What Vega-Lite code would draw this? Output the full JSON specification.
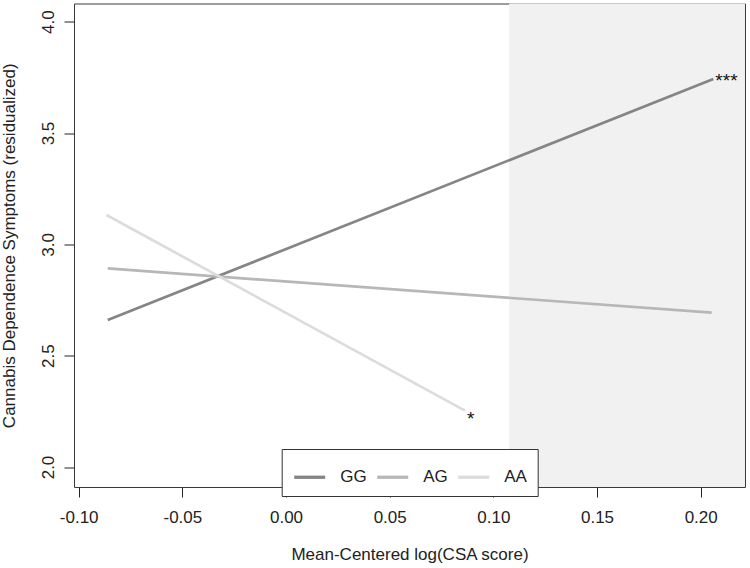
{
  "$schema": "https://vega.github.io/schema/vega-lite/v6.json",
  "width": 671,
  "height": 483.5,
  "autosize": "none",
  "padding": {"left": 74, "top": 3.5, "right": 5, "bottom": 81},
  "background": "white",
  "config": {
    "font": "Liberation Sans",
    "view": {"stroke": "#3a3a3a", "strokeWidth": 1},
    "axis": {
      "grid": false,
      "domain": false,
      "tickColor": "#222",
      "tickSize": 10,
      "tickWidth": 1,
      "labelFont": "Liberation Sans",
      "labelFontSize": 17,
      "labelColor": "#222",
      "titleFont": "Liberation Sans",
      "titleFontSize": 17,
      "titleFontWeight": "normal",
      "titleColor": "#222"
    }
  },
  "datasets": {
    "shade": [{"start": 0.1076, "end": 0.22137}],
    "lines": [
      {"genotype": "GG", "csa": -0.086, "symptoms": 2.66},
      {"genotype": "GG", "csa": 0.2061, "symptoms": 3.743},
      {"genotype": "AG", "csa": -0.086, "symptoms": 2.892},
      {"genotype": "AG", "csa": 0.2053, "symptoms": 2.693},
      {"genotype": "AA", "csa": -0.0866, "symptoms": 3.132},
      {"genotype": "AA", "csa": 0.0863, "symptoms": 2.253}
    ],
    "stars": [
      {"genotype": "GG", "csa": 0.2061, "symptoms": 3.743, "label": "***"},
      {"genotype": "AA", "csa": 0.0863, "symptoms": 2.253, "label": "*"}
    ]
  },
  "layer": [
    {
      "data": {"name": "shade"},
      "mark": {"type": "rect", "color": "#f1f1f1"},
      "encoding": {
        "x": {"field": "start", "type": "quantitative", "scale": {"domain": [-0.10227, 0.22137], "nice": false, "zero": false}},
        "x2": {"field": "end"}
      }
    },
    {
      "data": {"name": "lines"},
      "mark": {"type": "line", "strokeWidth": 2.7},
      "encoding": {
        "x": {
          "field": "csa", "type": "quantitative",
          "scale": {"domain": [-0.10227, 0.22137], "nice": false, "zero": false},
          "axis": {
            "values": [-0.1, -0.05, 0, 0.05, 0.1, 0.15, 0.2],
            "labelExpr": "replace(format(datum.value, '.2f'), '\u2212', '-')",
            "labelPadding": 25,
            "labelBaseline": "alphabetic",
            "title": "Mean-Centered log(CSA score)",
            "titleY": 72,
            "titleBaseline": "alphabetic"
          }
        },
        "y": {
          "field": "symptoms", "type": "quantitative",
          "scale": {"domain": [1.9102, 4.0817], "nice": false, "zero": false},
          "axis": {
            "values": [2, 2.5, 3, 3.5, 4],
            "format": ".1f",
            "labelAngle": -90,
            "labelAlign": "center",
            "labelBaseline": "alphabetic",
            "labelPadding": 11,
            "title": "Cannabis Dependence Symptoms (residualized)",
            "titleAngle": -90,
            "titleX": -60,
            "titleY": 241.75,
            "titleAlign": "center",
            "titleBaseline": "alphabetic"
          }
        },
        "color": {
          "field": "genotype", "type": "nominal",
          "scale": {"domain": ["GG", "AG", "AA"], "range": ["#858585", "#b7b7b7", "#dcdcdc"]},
          "legend": {
            "orient": "none",
            "legendX": 207.7,
            "legendY": 445.5,
            "direction": "horizontal",
            "title": null,
            "symbolType": "stroke",
            "symbolSize": 961,
            "symbolStrokeWidth": 3.3,
            "labelFontSize": 17,
            "labelFont": "Liberation Sans",
            "labelColor": "#222",
            "labelOffset": 13,
            "columnPadding": 3,
            "padding": 10.5,
            "fillColor": "white",
            "strokeColor": "#333",
            "cornerRadius": 0
          }
        }
      }
    },
    {
      "data": {"name": "stars"},
      "transform": [{"filter": "datum.label == '***'"}],
      "mark": {"type": "text", "align": "left", "baseline": "middle", "dx": 2, "dy": 2, "fontSize": 19, "color": "#111"},
      "encoding": {
        "x": {"field": "csa", "type": "quantitative"},
        "y": {"field": "symptoms", "type": "quantitative"},
        "text": {"field": "label"}
      }
    },
    {
      "data": {"name": "stars"},
      "transform": [{"filter": "datum.label == '*'"}],
      "mark": {"type": "text", "align": "left", "baseline": "middle", "dx": 2, "dy": 8, "fontSize": 19, "color": "#111"},
      "encoding": {
        "x": {"field": "csa", "type": "quantitative"},
        "y": {"field": "symptoms", "type": "quantitative"},
        "text": {"field": "label"}
      }
    }
  ]
}
